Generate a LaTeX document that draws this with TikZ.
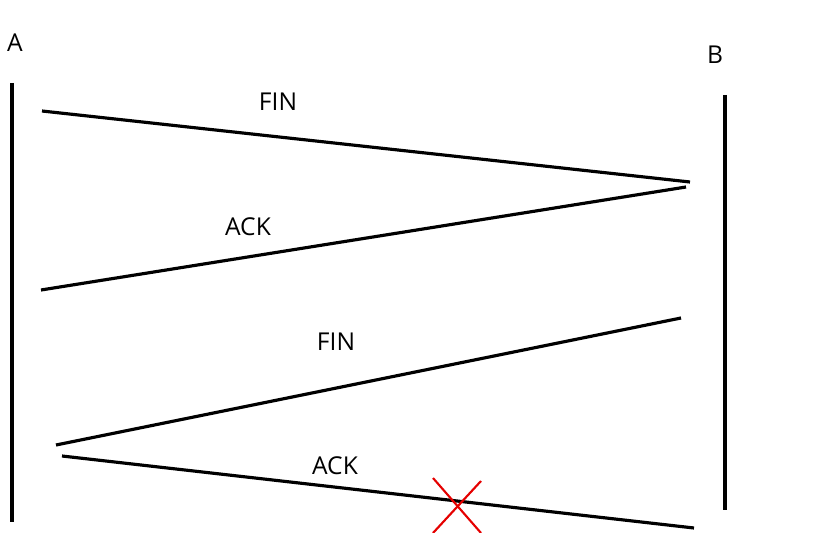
\documentclass[tikz,border=0pt]{standalone}
\usepackage{fontspec}
\setmainfont{Open Sans}
\usetikzlibrary{calc}

\tikzset{
  msg/.style={line width=1.8pt},
  host/.style={line width=1.9pt},
  lbl/.style={font=\fontsize{14}{16}\selectfont},
  lost/.style={red!90!black, line width=1.2pt}
}

\begin{document}
\begin{tikzpicture}[x=0.02cm, y=-0.02cm]

\useasboundingbox (0,0) rectangle (831,533);

% the two hosts
\node[lbl] (A) at (15,43) {A};
\node[lbl] (B) at (715,55) {B};
\coordinate (atop) at (12,83);
\coordinate (abot) at (12,522);
\coordinate (btop) at (725,95);
\coordinate (bbot) at (725,510);
\draw[host] (atop) -- (abot);
\draw[host] (btop) -- (bbot);

% first FIN, A to B
\coordinate (f1a) at (42,111);
\coordinate (f1b) at (690,182);
\draw[msg] (f1a) -- (f1b);
\node[lbl] (fin1) at (278,102) {FIN};

% ACK back to A
\coordinate (k1b) at (686,187);
\coordinate (k1a) at (41,290);
\draw[msg] (k1b) -- (k1a);
\node[lbl] (ack1) at (248,227) {ACK};

% second FIN, B to A
\coordinate (f2b) at (681,318);
\coordinate (f2a) at (56,445);
\draw[msg] (f2b) -- (f2a);
\node[lbl] (fin2) at (336,342) {FIN};

% last ACK, lost on the way
\coordinate (k2a) at (62,456);
\coordinate (k2b) at (694,528);
\draw[msg] (k2a) -- (k2b);
\node[lbl] (ack2) at (335,466) {ACK};

% cross on the lost ACK
\coordinate (x1) at (433,478);
\coordinate (x2) at (481,533);
\coordinate (x3) at (481,481);
\coordinate (x4) at (433,533);
\draw[lost] (x1) -- (x2);
\draw[lost] (x3) -- (x4);

\end{tikzpicture}
\end{document}
